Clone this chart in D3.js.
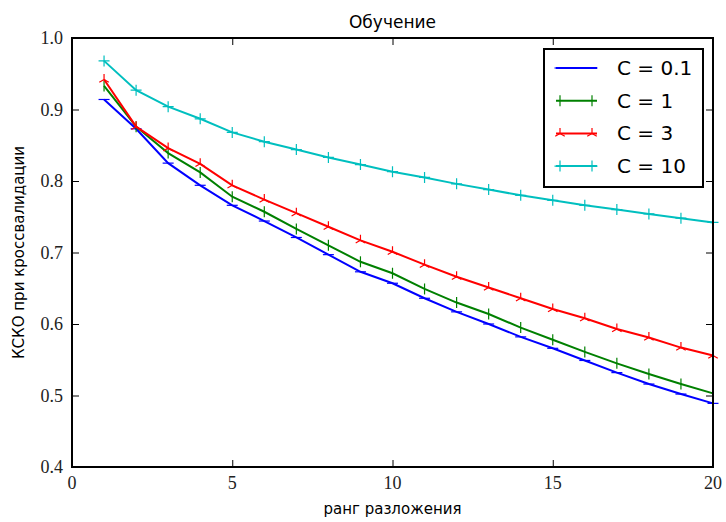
<!DOCTYPE html>
<html><head><meta charset="utf-8">
<script src="https://cdn.jsdelivr.net/npm/d3@7"></script>
<style>body{margin:0;background:#fff}svg{display:block}</style>
</head><body><svg id="c" width="726" height="522"></svg>
<script>
const ranks = d3.range(1, 21);
const c01 = [0.914,0.873,0.825,0.794,0.766,0.744,0.721,0.697,0.673,0.657,0.636,0.617,0.600,0.582,0.566,0.549,0.532,0.516,0.502,0.489];
const c1  = [0.933,0.876,0.839,0.812,0.778,0.757,0.733,0.710,0.687,0.671,0.649,0.630,0.614,0.595,0.578,0.561,0.545,0.530,0.516,0.503];
const c3  = [0.942,0.876,0.846,0.824,0.794,0.774,0.755,0.736,0.717,0.701,0.683,0.666,0.651,0.636,0.621,0.608,0.593,0.581,0.567,0.556];
const c10 = [0.968,0.927,0.904,0.887,0.868,0.855,0.844,0.833,0.823,0.813,0.805,0.796,0.788,0.780,0.773,0.766,0.760,0.754,0.748,0.742];
const seriesNames = ["C = 0.1","C = 1","C = 3","C = 10"];
const seriesColors = ["#0000ff","#008000","#ff0000","#00bfbf"];
const seriesMarkers = ["hline","vline","tri","plus"];
const xTicks = [0,5,10,15,20];
const xTickLabels = ["0","5","10","15","20"];
const yTicks = [0.4,0.5,0.6,0.7,0.8,0.9,1.0];
const yTickLabels = ["0.4","0.5","0.6","0.7","0.8","0.9","1.0"];
const series = [c01,c1,c3,c10];

const svg = d3.select("#c");
const L=72,R=713,T=38,B=467;
const x = d3.scaleLinear().domain([0,20]).range([L,R]);
const y = d3.scaleLinear().domain([0.4,1.0]).range([B,T]);

function marker(g, type, cx, cy, color){
  const s=5.5;
  let d;
  if(type==="hline") d=`M${cx-s},${cy}H${cx+s}`;
  else if(type==="vline") d=`M${cx},${cy-s}V${cy+s}`;
  else if(type==="plus") d=`M${cx-s},${cy}H${cx+s}M${cx},${cy-s}V${cy+s}`;
  else { const a=s; d=`M${cx},${cy}V${cy-a}M${cx},${cy}L${cx-a*0.866},${cy+a*0.5}M${cx},${cy}L${cx+a*0.866},${cy+a*0.5}`; }
  g.append("path").attr("d",d).attr("stroke",color).attr("stroke-width",1.2).attr("fill","none");
}

const plot = svg.append("g");
series.forEach((vals,i)=>{
  const line = d3.line().x((d,j)=>x(ranks[j])).y(d=>y(d));
  plot.append("path").datum(vals).attr("d",line).attr("fill","none")
    .attr("stroke",seriesColors[i]).attr("stroke-width",2);
  const mg = plot.append("g");
  vals.forEach((v,j)=>marker(mg, seriesMarkers[i], x(ranks[j]), y(v), seriesColors[i]));
});

svg.append("rect").attr("x",L).attr("y",T).attr("width",R-L).attr("height",B-T)
  .attr("fill","none").attr("stroke","#000").attr("stroke-width",2);

// tick marks (inward) on all four sides, via axis generators
const xb = svg.append("g").attr("transform",`translate(0,${B})`)
  .call(d3.axisBottom(x).tickValues(xTicks).tickSize(-7).tickFormat(""));
const xt = svg.append("g").attr("transform",`translate(0,${T})`)
  .call(d3.axisTop(x).tickValues(xTicks).tickSize(-7).tickFormat(""));
const yl = svg.append("g").attr("transform",`translate(${L},0)`)
  .call(d3.axisLeft(y).tickValues(yTicks).tickSize(-7).tickFormat(""));
const yr = svg.append("g").attr("transform",`translate(${R},0)`)
  .call(d3.axisRight(y).tickValues(yTicks).tickSize(-7).tickFormat(""));
[xb,xt,yl,yr].forEach(g=>{
  g.select(".domain").remove();
  g.selectAll(".tick line").attr("stroke","#000").attr("stroke-width",1);
});

// tick labels (serif)
const tl = svg.append("g").attr("font-family","Liberation Serif").attr("font-size",18).attr("fill","#222");
tl.selectAll("text.xl").data(xTicks).enter().append("text").attr("class","xl")
  .attr("x",d=>x(d)).attr("y",B+22).attr("text-anchor","middle").text((d,i)=>xTickLabels[i]);
tl.selectAll("text.yl").data(yTicks).enter().append("text").attr("class","yl")
  .attr("x",L-9).attr("y",d=>y(d)+6).attr("text-anchor","end").text((d,i)=>yTickLabels[i]);

svg.append("text").attr("x",(L+R)/2).attr("y",28).attr("text-anchor","middle")
  .attr("font-family","DejaVu Sans").attr("font-size",17).text("Обучение");
svg.append("text").attr("x",(L+R)/2).attr("y",514).attr("text-anchor","middle")
  .attr("font-family","DejaVu Sans").attr("font-size",15).text("ранг разложения");
svg.append("text").attr("transform",`translate(24,${(T+B)/2}) rotate(-90)`).attr("text-anchor","middle")
  .attr("font-family","DejaVu Sans").attr("font-size",15).text("КСКО при кроссвалидации");

const lg = svg.append("g");
lg.append("rect").attr("x",544).attr("y",49).attr("width",159).attr("height",138)
  .attr("fill","#fff").attr("stroke","#000").attr("stroke-width",2);
seriesNames.forEach((n,i)=>{
  const yy = 68 + i*32.7;
  lg.append("line").attr("x1",556).attr("x2",597).attr("y1",yy).attr("y2",yy)
    .attr("stroke",seriesColors[i]).attr("stroke-width",2);
  marker(lg, seriesMarkers[i], 560, yy, seriesColors[i]);
  marker(lg, seriesMarkers[i], 592, yy, seriesColors[i]);
  lg.append("text").attr("x",617).attr("y",yy+7).attr("font-family","DejaVu Sans")
    .attr("font-size",20).text(n);
});
</script></body></html>
